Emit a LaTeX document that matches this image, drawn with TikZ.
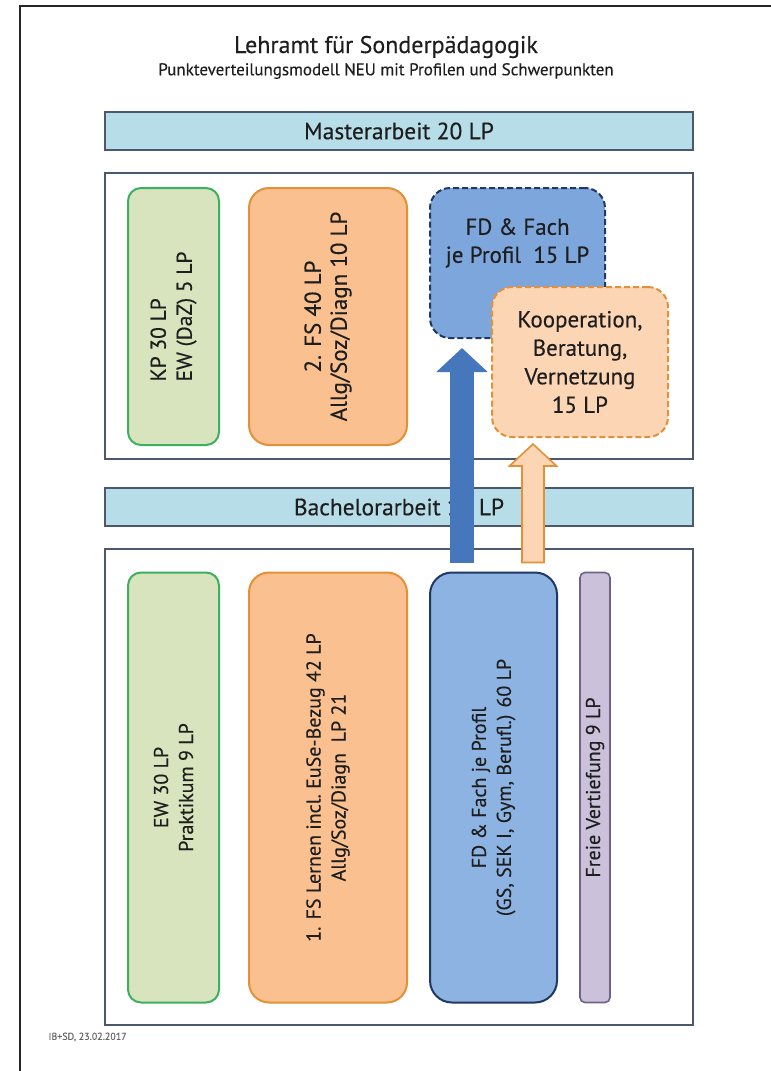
\documentclass[tikz,border=0pt]{standalone}
\usepackage{fontspec}
\setmainfont{PT Sans}[FakeBold=0.3]
\usetikzlibrary{calc,arrows.meta}
\definecolor{barfill}{HTML}{B7DDE8}
\definecolor{frameline}{HTML}{4C5870}
\definecolor{grfill}{HTML}{D7E4BD}
\definecolor{grline}{HTML}{3DB060}
\definecolor{orfill}{HTML}{FAC090}
\definecolor{orline}{HTML}{E39138}
\definecolor{ltorfill}{HTML}{FCD5B5}
\definecolor{blfill}{HTML}{8DB3E2}
\definecolor{blfillb}{HTML}{7DA6DC}
\definecolor{blline}{HTML}{1F3864}
\definecolor{arrblue}{HTML}{4676BC}
\definecolor{pufill}{HTML}{CCC1DA}
\definecolor{puline}{HTML}{6E6385}
\definecolor{txtc}{HTML}{1E1E1E}
\tikzset{
  boxtext/.style={text=txtc, font=\fontsize{20}{25}\selectfont, align=center, inner sep=0pt},
  bar/.style={draw=frameline, line width=2pt, fill=barfill, minimum width=588pt, minimum height=38pt, boxtext, font=\fontsize{23.5}{26}\selectfont},
  frame/.style={draw=frameline, line width=2pt, fill=white, minimum width=588pt},
  vbox/.style={boxtext, rotate=90, line width=2pt},
  grbox/.style={vbox, draw=grline, fill=grfill, rounded corners=13pt},
  orbox/.style={vbox, draw=orline, fill=orfill, rounded corners=20pt},
  blbox/.style={vbox, draw=blline, fill=blfill, rounded corners=22pt},
  pubox/.style={vbox, draw=puline, fill=pufill, rounded corners=5pt, line width=1.6pt},
  dashbl/.style={boxtext, draw=blline, fill=blfillb, line width=2pt, dash pattern=on 6pt off 3pt, rounded corners=20pt},
  dashor/.style={boxtext, draw=orline, fill=ltorfill, line width=2pt, dash pattern=on 6pt off 3pt, rounded corners=20pt},
  bluearrow/.style={draw=arrblue, line width=24pt, -{Triangle[width=50pt,length=24pt]}},
  orarrow/.style={draw=orline, fill=ltorfill, line width=1.6pt, line join=miter},
}
\begin{document}
\begin{tikzpicture}[x=1pt,y=-1pt]
\useasboundingbox (0,0) rectangle (771,1071);
\fill[white] (0,0) rectangle (771,1071);
\draw[line width=2.5pt, black!85] (20,1075) -- (20,6) -- (775,6);

\node[text=txtc, font=\fontsize{24}{28}\selectfont] (title) at (386,47) {Lehramt für Sonderpädagogik};
\node[text=txtc, font=\fontsize{17}{19}\selectfont] (sub) at (386,71) {Punkteverteilungsmodell NEU mit Profilen und Schwerpunkten};

\node[bar] (ma) at (399,131) {Masterarbeit 20 LP};
\node[frame, minimum height=286pt] (uf) at (399,316) {};
\node[bar] (ba) at (399,507) {Bachelorarbeit 10 LP};
\node[frame, minimum height=476pt] (lf) at (399,787) {};

% upper boxes
\node[grbox, align=left, font=\fontsize{21.5}{26}\selectfont, minimum width=257pt, minimum height=91pt] (kp) at (173.5,316.5) {KP 30 LP\\EW (DaZ) 5 LP};
\node[orbox, font=\fontsize{23}{26}\selectfont, minimum width=257pt, minimum height=158pt] (fs2) at (328,316.5) {2. FS 40 LP\\Allg/Soz/Diagn 10 LP};
\node[dashbl, minimum width=175pt, minimum height=150pt] (fdu) at (517.5,263) {};
\node[boxtext, font=\fontsize{23}{28}\selectfont] (fdut) at ($(fdu.north)+(0,56)$) {FD \& Fach\\je Profil\ \ 15 LP};
\node[dashor, minimum width=176pt, minimum height=150pt, font=\fontsize{23}{28.5}\selectfont] (koop) at (580,362) {Kooperation,\\Beratung,\\Vernetzung\\15 LP};

% lower boxes
\node[grbox, minimum width=430pt, minimum height=91pt] (ew) at (173.5,787.5) {EW 30 LP\\Praktikum 9 LP};
\node[orbox, minimum width=430pt, minimum height=158pt] (fs1) at (328,787.5) {1. FS Lernen incl.\ EuSe-Bezug 42 LP\\Allg/Soz/Diagn\ \ LP 21};
\node[blbox, minimum width=430pt, minimum height=127pt] (fdl) at (493.5,787.5) {FD \& Fach je Profil\\(GS, SEK I, Gym, Berufl.) 60 LP};
\node[pubox, minimum width=430pt, minimum height=30pt] (fv) at (595,787.5) {Freie Vertiefung 9 LP};

% arrows
\coordinate (bb) at ($(fdl.east)+(-31.5,-9)$);
\coordinate (bt) at ($(fdu.south)+(-55.5,9)$);
\draw[bluearrow] (bb) -- (bt);
\coordinate (ob) at ($(fdl.east)+(39.5,-9)$);
\coordinate (ot) at ($(koop.south)+(-47,6)$);
\draw[orarrow] ($(ob)+(-11,0)$) -- ($(ot)+(-11,22)$) -- ($(ot)+(-23.5,22)$) -- (ot) -- ($(ot)+(23.5,22)$) -- ($(ot)+(11,22)$) -- ($(ob)+(11,0)$) -- cycle;

\node[anchor=west, text=black!60, font=\fontsize{10}{12}\selectfont] (foot) at (45,1037) {IB+SD, 23.02.2017};
\end{tikzpicture}
\end{document}
